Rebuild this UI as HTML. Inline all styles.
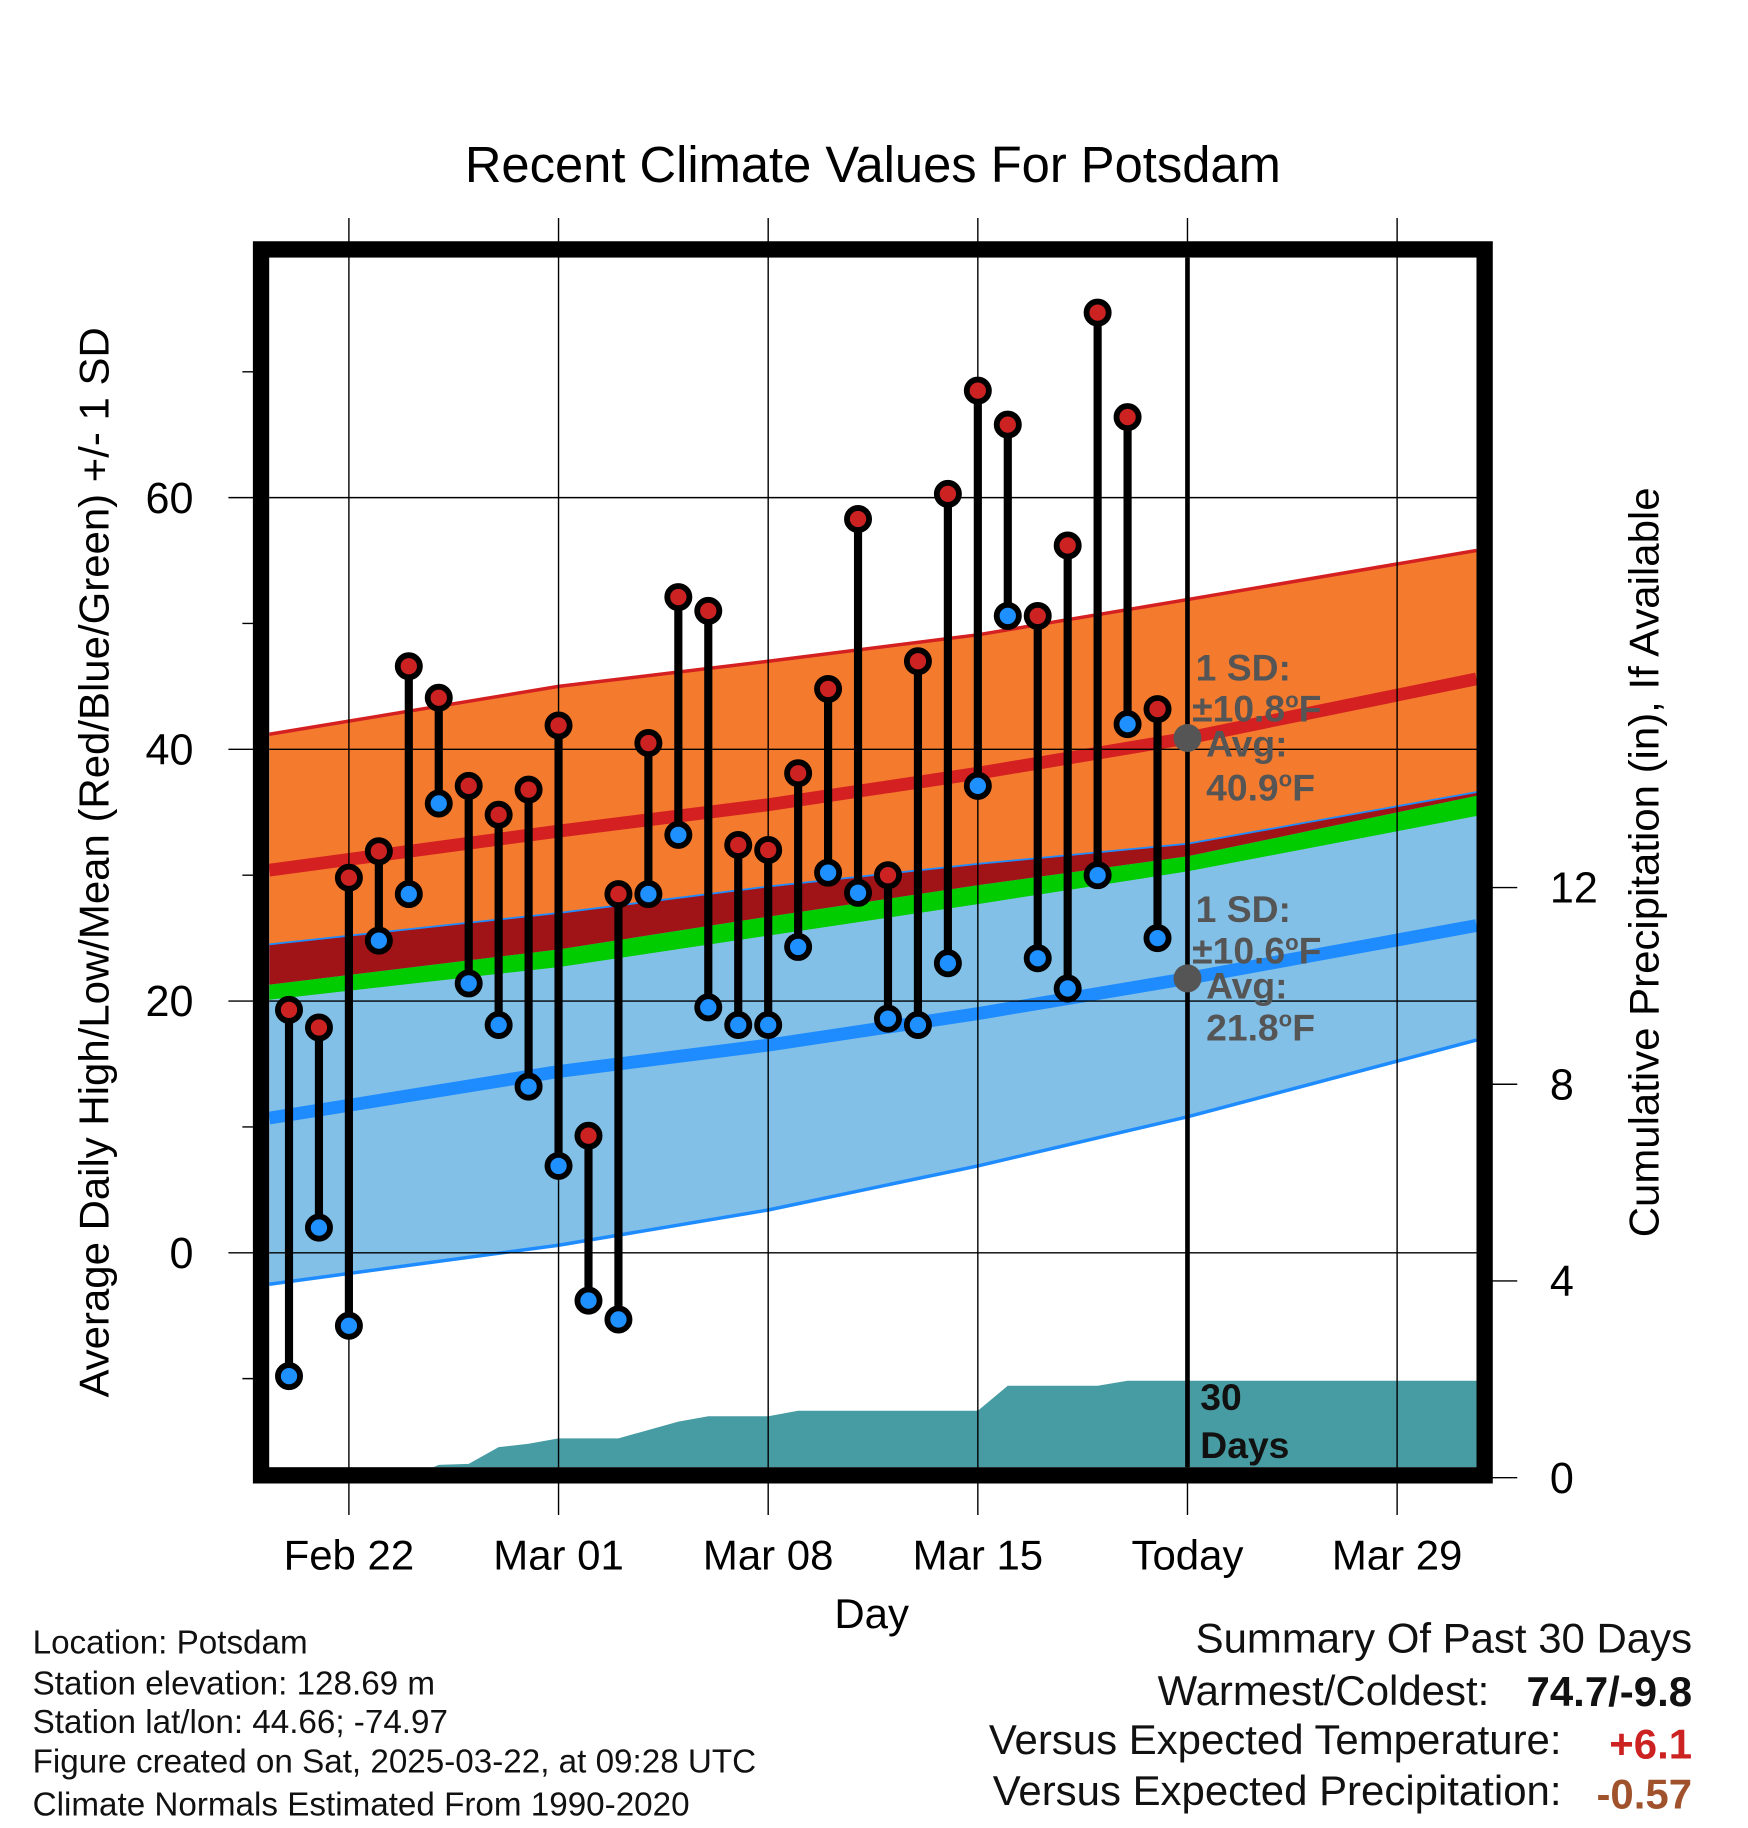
<!DOCTYPE html>
<html><head><meta charset="utf-8"><style>
html,body{margin:0;padding:0;background:#fff}
svg{display:block}
text{font-family:"Liberation Sans",sans-serif}
</style></head><body>
<svg id="chart" width="1748" height="1828" viewBox="0 0 1500 1568.6" xmlns="http://www.w3.org/2000/svg">
<rect width="1500" height="1568.6" fill="#fff"/>
<g id="bands"></g><g id="grid"></g><g id="marks"></g>
<text x="749" y="156" font-size="43.5" text-anchor="middle">Recent Climate Values For Potsdam</text>
<text transform="translate(93,740) rotate(-90)" font-size="36" text-anchor="middle">Average Daily High/Low/Mean (Red/Blue/Green) +/- 1 SD</text>
<text transform="translate(1423,740) rotate(-90)" font-size="36" text-anchor="middle">Cumulative Precipitation (in), If Available</text>
<text x="748" y="1397" font-size="36" text-anchor="middle">Day</text>
<g font-size="32" font-weight="bold" fill="#555">
<text x="1026" y="584">1 SD:</text><text x="1023" y="619">±10.8<tspan font-size="19" dy="-12">o</tspan><tspan dy="12">F</tspan></text>
<text x="1035" y="649">Avg:</text><text x="1035" y="687">40.9<tspan font-size="19" dy="-12">o</tspan><tspan dy="12">F</tspan></text>
</g>
<g font-size="32" font-weight="bold" fill="#555">
<text x="1026" y="791">1 SD:</text><text x="1023" y="827">±10.6<tspan font-size="19" dy="-12">o</tspan><tspan dy="12">F</tspan></text>
<text x="1035" y="857">Avg:</text><text x="1035" y="893">21.8<tspan font-size="19" dy="-12">o</tspan><tspan dy="12">F</tspan></text>
</g>
<g font-size="32" font-weight="bold" fill="#111">
<text x="1030" y="1210">30</text><text x="1030" y="1251">Days</text>
</g>
<g font-size="28.5" fill="#111">
<text x="28" y="1419">Location: Potsdam</text>
<text x="28" y="1454">Station elevation: 128.69 m</text>
<text x="28" y="1487">Station lat/lon: 44.66; -74.97</text>
<text x="28" y="1521">Figure created on Sat, 2025-03-22, at 09:28 UTC</text>
<text x="28" y="1558">Climate Normals Estimated From 1990-2020</text>
</g>
<g font-size="36" fill="#111">
<text x="1452" y="1418" text-anchor="end">Summary Of Past 30 Days</text>
<text x="1278" y="1463" text-anchor="end">Warmest/Coldest:</text>
<text x="1452" y="1464" text-anchor="end" font-weight="bold">74.7/-9.8</text>
<text x="1340" y="1505" text-anchor="end">Versus Expected Temperature:</text>
<text x="1452" y="1509" text-anchor="end" font-weight="bold" fill="#cc2222">+6.1</text>
<text x="1340" y="1549" text-anchor="end">Versus Expected Precipitation:</text>
<text x="1452" y="1552" text-anchor="end" font-weight="bold" fill="#a0522d">-0.57</text>
</g>
<script>
// Observed data (days from Feb 20)
const highs=[19.3,17.9,29.8,31.9,46.6,44.1,37.1,34.8,36.8,41.9,9.3,28.5,40.5,52.1,51.0,32.4,32.0,38.1,44.8,58.3,30.0,47.0,60.3,68.5,65.8,50.6,56.2,74.7,66.4,43.2];
const lows=[-9.8,2.0,-5.8,24.8,28.5,35.7,21.4,18.1,13.2,6.9,-3.8,-5.3,28.5,33.2,19.5,18.1,18.1,24.3,30.2,28.6,18.6,18.1,23.0,37.1,50.6,23.4,21.0,30.0,42.0,25.0];
const precip=[0,0,0,0,0,0.26,0.28,0.62,0.69,0.8,0.8,0.8,0.97,1.14,1.25,1.25,1.25,1.36,1.36,1.36,1.36,1.36,1.36,1.36,1.87,1.87,1.87,1.87,1.97,1.97];
// Normals sampled at day offsets
const normDays=[-0.66,9,16,23,30,39.65];
const highUpper=[41.2,45.0,47.0,49.1,51.9,55.8];
const highMean=[30.4,33.5,35.6,38.1,40.9,45.6];
const highLower=[24.5,27.0,29.1,30.9,32.5,36.6];
const overlapLower=[21.3,24.1,26.7,29.2,31.5,36.3];
const meanLower=[20.1,22.7,25.2,27.7,30.3,34.7];
const lowMean=[10.7,14.4,16.5,19.0,21.8,26.0];
const lowLower=[-2.5,0.6,3.4,6.9,10.8,16.9];
const yTicks=[0,20,40,60];
const y2Ticks=[0,4,8,12];
const xTickLabels=["Feb 22","Mar 01","Mar 08","Mar 15","Today","Mar 29"];
const xTickDays=[2,9,16,23,30,37];

const X=d=>248+25.7*d;
const Y=v=>1075-10.8*v;
const Y2=p=>1268-42.2*p;
const L=231,R=1267,T=221,B=1259;
const NS="http://www.w3.org/2000/svg";
function mk(tag,attrs,parent){const e=document.createElementNS(NS,tag);for(const k in attrs)e.setAttribute(k,attrs[k]);parent.appendChild(e);return e;}
const bands=document.getElementById('bands'),grid=document.getElementById('grid'),marks=document.getElementById('marks');
const clip=mk('clipPath',{id:'pc'},mk('defs',{},bands));mk('rect',{x:L,y:T,width:R-L,height:B-T},clip);
const bg=mk('g',{'clip-path':'url(#pc)'},bands);
function band(up,lo,fill,name){
  let pts=normDays.map((d,i)=>X(d)+','+Y(up[i]));
  pts=pts.concat(normDays.map((d,i)=>X(d)+','+Y(lo[i])).reverse());
  const p=mk('polygon',{points:pts.join(' '),fill:fill},bg);
  
  
}
function line(arr,stroke,w,name){
  const p=mk('polyline',{points:normDays.map((d,i)=>X(d)+','+Y(arr[i])).join(' '),fill:'none',stroke:stroke,'stroke-width':w},bg);
  
  
}
band(highUpper,highLower,'#f47b2e','high-sd-band');
band(highLower,lowLower,'#82c0e8','low-sd-band');
band(highLower,overlapLower,'#a01418','band-overlap');
band(overlapLower,meanLower,'#00cc00','mean-band');
line(highUpper,'#d42020',3,'high-upper-line');
line(highMean,'#d42020',11,'high-mean-line');
line(lowMean,'#1e8cff',11,'low-mean-line');
line(lowLower,'#1e8cff',3,'low-lower-line');
line(highLower,'#1e8cff',1.5,'low-upper-line');
// precip area
let pp=[X(-0.66)+','+Y2(0)];
precip.forEach((v,i)=>pp.push(X(i)+','+Y2(v)));
pp.push(X(39.65)+','+Y2(precip[precip.length-1]));
pp.push(X(39.65)+','+Y2(0));
const pa=mk('polygon',{points:pp.join(' '),fill:'#479ca3'},bg);


// grid
yTicks.forEach(v=>{
  const g=mk('line',{x1:L,x2:R,y1:Y(v),y2:Y(v),stroke:'#000','stroke-width':1.2},grid);
  
  
  mk('line',{x1:196,x2:224,y1:Y(v),y2:Y(v),stroke:'#000','stroke-width':1.2},grid);
  const t=mk('text',{x:166,y:Y(v)+13,'font-size':37,'text-anchor':'end'},grid);t.textContent=v;
  
  
});
for(let v=-10;v<=70;v+=20){mk('line',{x1:208,x2:224,y1:Y(v),y2:Y(v),stroke:'#000','stroke-width':1.2},grid);}
y2Ticks.forEach(v=>{
  mk('line',{x1:1274,x2:1302,y1:Y2(v),y2:Y2(v),stroke:'#000','stroke-width':1.2},grid);
  const t=mk('text',{x:1330,y:Y2(v)+13,'font-size':37,'text-anchor':'start'},grid);t.textContent=v;
  
  
});
xTickDays.forEach((d,i)=>{
  const g=mk('line',{x1:X(d),x2:X(d),y1:187,y2:1300,stroke:'#000','stroke-width':1.2},grid);
  
  
  const t=mk('text',{x:X(d),y:1347,'font-size':36,'text-anchor':'middle'},grid);t.textContent=xTickLabels[i];
  
  
});
const today=mk('line',{x1:X(30),x2:X(30),y1:T,y2:B,stroke:'#000','stroke-width':4},grid);


// observed marks
highs.forEach((h,i)=>{
  const s=mk('line',{x1:X(i),x2:X(i),y1:Y(h),y2:Y(lows[i]),stroke:'#000','stroke-width':7},marks);
  
  
});
highs.forEach((h,i)=>{
  const a=mk('circle',{cx:X(i),cy:Y(h),r:9.5,fill:'#cc2222',stroke:'#000','stroke-width':5},marks);
  
  
  const b=mk('circle',{cx:X(i),cy:Y(lows[i]),r:9.5,fill:'#1e90ff',stroke:'#000','stroke-width':5},marks);
  
  
});
const d1=mk('circle',{cx:X(30),cy:Y(highMean[4]),r:12,fill:'#555'},marks);


const d2=mk('circle',{cx:X(30),cy:Y(lowMean[4]),r:12,fill:'#555'},marks);


const fr=mk('rect',{x:224,y:214,width:1050,height:1052,fill:'none',stroke:'#000','stroke-width':14},marks);


</script>
</svg>
</body></html>
